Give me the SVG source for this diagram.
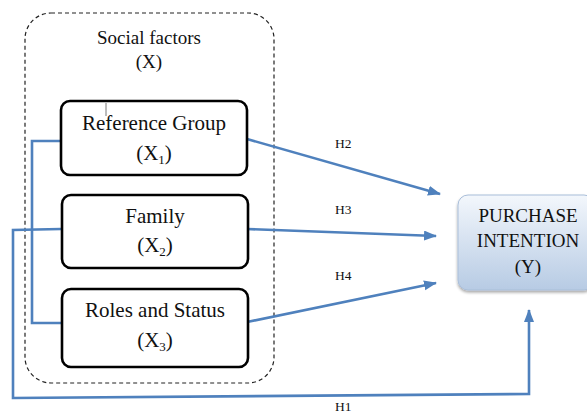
<svg xmlns="http://www.w3.org/2000/svg" width="587" height="412" viewBox="0 0 587 412">
<defs>
<style>
.t{font-family:"Liberation Serif","Times New Roman",serif;fill:#111;text-anchor:middle}
.n{fill:#fff;stroke:#000;stroke-width:2.6}
.c{fill:none;stroke:#4f81bd;stroke-width:2.6;stroke-linejoin:miter}
.h{font-family:"Liberation Serif","Times New Roman",serif;font-size:13.5px;fill:#111}
</style>
<marker id="ah" markerUnits="userSpaceOnUse" markerWidth="14" markerHeight="12" refX="12" refY="5" orient="auto">
<path d="M0,0 L13,5 L0,10 Z" fill="#4f81bd"/>
</marker>
<linearGradient id="pg" x1="0" y1="0" x2="0" y2="1">
<stop offset="0" stop-color="#f3f7fc"/>
<stop offset="1" stop-color="#b7cbe4"/>
</linearGradient>
<filter id="sh" x="-10%" y="-10%" width="130%" height="130%">
<feGaussianBlur in="SourceAlpha" stdDeviation="1.5"/>
<feOffset dx="0" dy="2" result="b"/>
<feComponentTransfer><feFuncA type="linear" slope="0.35"/></feComponentTransfer>
<feMerge><feMergeNode/><feMergeNode in="SourceGraphic"/></feMerge>
</filter>
</defs>
<rect width="587" height="412" fill="#fff"/>

<g id="social-factors">
<rect x="25" y="13" width="249" height="370" rx="26" fill="none" stroke="#222" stroke-width="1.2" stroke-dasharray="4,3"/>
<text class="t" x="149" y="44" font-size="19">Social factors</text>
<text class="t" x="149" y="68" font-size="19">(X)</text>
</g>

<g id="connectors">
<polyline class="c" points="61,141 32,141 32,323 61,323"/>
<polyline class="c" points="61,229 13,230 13,398 529,394 529,310" marker-end="url(#ah)"/>
<line class="c" x1="247" y1="139" x2="440" y2="194" marker-end="url(#ah)"/>
<line class="c" x1="247" y1="229" x2="436" y2="236" marker-end="url(#ah)"/>
<line class="c" x1="247" y1="322" x2="436" y2="283" marker-end="url(#ah)"/>
<text class="h" x="335" y="148">H2</text>
<text class="h" x="335" y="214">H3</text>
<text class="h" x="335" y="280">H4</text>
<text class="h" x="335" y="410.5">H1</text>
</g>

<g id="reference-group">
<rect class="n" x="61" y="101" width="186" height="74" rx="9"/>
<line x1="106" y1="103" x2="106" y2="116" stroke="#555" stroke-width="0.8"/>
<text class="t" x="154" y="130" font-size="21">Reference Group</text>
<text class="t" x="154" y="160" font-size="21">(X<tspan font-size="13" dy="4">1</tspan><tspan dy="-4">)</tspan></text>
</g>

<g id="family">
<rect class="n" x="62" y="195" width="186" height="73" rx="9"/>
<text class="t" x="155" y="223" font-size="21">Family</text>
<text class="t" x="155" y="252" font-size="21">(X<tspan font-size="13" dy="4">2</tspan><tspan dy="-4">)</tspan></text>
</g>

<g id="roles-status">
<rect class="n" x="62" y="289" width="186" height="78" rx="9"/>
<text class="t" x="155" y="317" font-size="21">Roles and Status</text>
<text class="t" x="155" y="347" font-size="21">(X<tspan font-size="13" dy="4">3</tspan><tspan dy="-4">)</tspan></text>
</g>

<g id="purchase-intention">
<rect x="458" y="195" width="136" height="95" rx="10" fill="url(#pg)" stroke="#a9bed9" stroke-width="1" filter="url(#sh)"/>
<text class="t" x="528" y="222" font-size="19">PURCHASE</text>
<text class="t" x="528" y="247" font-size="19">INTENTION</text>
<text class="t" x="528" y="273" font-size="19">(Y)</text>
</g>
</svg>
